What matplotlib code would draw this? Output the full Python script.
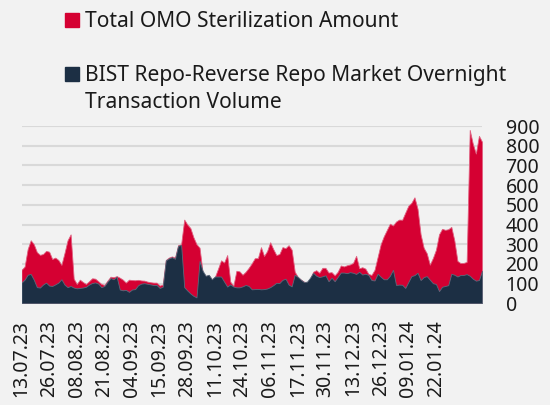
import matplotlib
matplotlib.use("Agg")
import matplotlib.pyplot as plt
from matplotlib.patches import Rectangle
import numpy as np

# ========================================
# DATA (business days, 13.07.23 - mid Feb 2024)
# ========================================
total_omo = [
    170, 186, 275, 320, 300, 260, 246, 250, 266, 262,
    225, 232, 220, 195, 255, 320, 350, 125, 98, 120,
    108, 98, 112, 127, 125, 112, 98, 93, 115, 135,
    132, 138, 130, 120, 105, 120, 118, 117, 119, 116,
    115, 110, 107, 105, 105, 90, 95, 220, 232, 238,
    232, 295, 300, 425, 400, 382, 335, 300, 282, 155,
    138, 142, 122, 134, 175, 218, 207, 245, 110, 88,
    165, 162, 145, 160, 180, 203, 229, 229, 285, 240,
    265, 310, 275, 245, 250, 285, 280, 295, 272, 160,
    134, 120, 110, 105, 125, 160, 168, 155, 180, 180,
    156, 158, 142, 160, 192, 187, 193, 197, 205, 241,
    178, 183, 176, 149, 144, 170, 235, 300, 340, 372,
    404, 395, 415, 425, 424, 460, 495, 510, 538, 480,
    350, 282, 254, 196, 230, 272, 350, 378, 373, 376,
    388, 318, 215, 204, 205, 210, 880, 810, 760, 850,
    820,
]

bist_repo = [
    105, 120, 145, 149, 120, 82, 80, 95, 105, 90,
    88, 96, 105, 122, 95, 82, 88, 80, 76, 78,
    80, 84, 95, 103, 106, 100, 82, 88, 110, 128,
    122, 135, 70, 66, 68, 58, 70, 72, 92, 100,
    102, 99, 96, 93, 93, 78, 84, 218, 228, 234,
    226, 292, 296, 82, 65, 50, 38, 30, 215, 165,
    140, 145, 122, 136, 136, 136, 110, 85, 96, 85,
    81, 81, 86, 93, 88, 71, 72, 73, 71, 72,
    75, 82, 92, 104, 103, 119, 125, 95, 86, 145,
    134, 120, 108, 110, 130, 155, 140, 133, 137, 142,
    112, 130, 112, 134, 156, 156, 153, 158, 155, 149,
    160, 146, 150, 144, 118, 116, 150, 135, 122, 122,
    140, 170, 93, 95, 94, 78, 108, 138, 143, 155,
    118, 133, 138, 120, 102, 98, 62, 84, 88, 92,
    150, 145, 136, 144, 144, 148, 140, 125, 115, 118,
    165,
]

tick_labels = [
    "13.07.23", "26.07.23", "08.08.23", "21.08.23", "04.09.23", "15.09.23",
    "28.09.23", "11.10.23", "24.10.23", "06.11.23", "17.11.23", "30.11.23",
    "13.12.23", "26.12.23", "09.01.24", "22.01.24",
]

legend_labels = [
    "Total OMO Sterilization Amount",
    "BIST Repo-Reverse Repo Market Overnight",
    "Transaction Volume",
]

RED = "#D50032"
NAVY = "#1C2F44"
BG = "#F2F2F2"
GRID = "#D9D9D9"

plt.rcParams["font.family"] = ["Noto Sans", "DejaVu Sans"]

W, H = 550, 405
fig = plt.figure(figsize=(W / 100, H / 100), dpi=100, facecolor=BG)
ax = fig.add_axes([21.5 / W, 1 - 303.3 / H, (482 - 21.5) / W, (303.3 - 126) / H])
ax.set_facecolor(BG)

x = np.arange(len(total_omo))
ax.fill_between(x, 0, total_omo, color=RED, lw=0.6, ec="#E06080", zorder=2)
ax.fill_between(x, 0, bist_repo, color=NAVY, lw=0.6, ec="#5A6A7C", zorder=3)

ax.set_xlim(0, len(x) - 1)
ax.set_ylim(0, 900)
ax.set_yticks(range(0, 901, 100))
ax.yaxis.tick_right()
ax.tick_params(axis="y", length=0, pad=17, labelsize=14, labelcolor="#1a1a1a")
ax.set_xticks(range(0, 9 * len(tick_labels), 9))
ax.set_xticklabels(tick_labels, rotation=90)
ax.tick_params(axis="x", length=0, pad=12, labelsize=14, labelcolor="#1a1a1a")
for lab in ax.get_yticklabels():
    lab.set_horizontalalignment("left")

ax.grid(axis="y", color=GRID, lw=1.5, zorder=1)
ax.set_axisbelow(True)
for s in ax.spines.values():
    s.set_visible(False)

# legend (drawn by hand to match the spacing)
fig.patches.append(Rectangle((65 / W, 1 - 27 / H), 14 / W, 14 / H,
                             transform=fig.transFigure, color=RED))
fig.patches.append(Rectangle((65 / W, 1 - 81 / H), 14 / W, 14 / H,
                             transform=fig.transFigure, color=NAVY))
fig.text(85 / W, 1 - 26.7 / H, legend_labels[0], fontsize=15.1, va="baseline", color="#1a1a1a")
fig.text(85 / W, 1 - 80.7 / H, legend_labels[1], fontsize=15.1, va="baseline", color="#1a1a1a")
fig.text(85 / W, 1 - 108.3 / H, legend_labels[2], fontsize=15.1, va="baseline", color="#1a1a1a")

fig.savefig("out.png", dpi=100, facecolor=BG)
